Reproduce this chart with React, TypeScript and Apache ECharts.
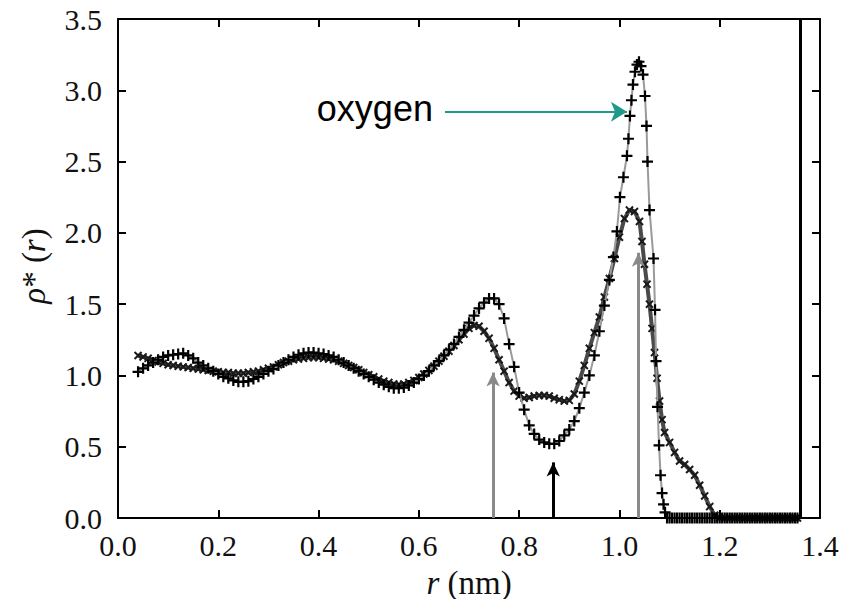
import React, { useEffect, useRef } from "react";
import * as echarts from "echarts";

// r (nm), rho*(r) — curve with "+" markers (oxygen peak)
const oxygenCurve: [number, number][] = [
  [0.04, 1.025], [0.05, 1.05], [0.06, 1.07], [0.07, 1.09], [0.08, 1.11], [0.09, 1.13], [0.10, 1.14],
  [0.11, 1.145], [0.12, 1.15], [0.13, 1.155], [0.14, 1.14], [0.15, 1.12], [0.16, 1.09], [0.17, 1.07],
  [0.18, 1.05], [0.19, 1.03], [0.20, 1.01], [0.21, 0.99], [0.22, 0.98], [0.23, 0.965], [0.24, 0.955],
  [0.25, 0.955], [0.26, 0.96], [0.27, 0.975], [0.28, 0.99], [0.29, 1.01], [0.30, 1.03], [0.31, 1.045],
  [0.32, 1.07], [0.33, 1.09], [0.34, 1.11], [0.35, 1.13], [0.36, 1.145], [0.37, 1.155], [0.38, 1.16],
  [0.39, 1.16], [0.40, 1.155], [0.41, 1.15], [0.42, 1.14], [0.43, 1.13], [0.44, 1.11], [0.45, 1.09],
  [0.46, 1.07], [0.47, 1.05], [0.48, 1.03], [0.49, 1.01], [0.50, 0.99], [0.51, 0.97], [0.52, 0.95],
  [0.53, 0.935], [0.54, 0.92], [0.55, 0.91], [0.56, 0.91], [0.57, 0.915], [0.58, 0.93], [0.59, 0.95],
  [0.60, 0.975], [0.61, 1.0], [0.62, 1.03], [0.63, 1.07], [0.64, 1.10], [0.65, 1.14], [0.66, 1.18],
  [0.67, 1.22], [0.68, 1.27], [0.69, 1.32], [0.70, 1.37], [0.71, 1.42], [0.72, 1.47], [0.73, 1.51],
  [0.74, 1.54], [0.75, 1.54], [0.76, 1.50], [0.77, 1.40], [0.78, 1.22], [0.79, 1.06], [0.80, 0.88],
  [0.81, 0.76], [0.82, 0.65], [0.83, 0.59], [0.84, 0.55], [0.85, 0.53], [0.86, 0.52], [0.87, 0.52],
  [0.88, 0.54], [0.89, 0.58], [0.90, 0.62], [0.91, 0.68], [0.92, 0.77], [0.93, 0.88], [0.94, 1.00],
  [0.95, 1.14], [0.96, 1.31], [0.97, 1.49], [0.98, 1.67], [0.988, 1.83], [0.995, 2.01], [1.001, 2.25],
  [1.008, 2.39], [1.015, 2.54], [1.018, 2.66], [1.021, 2.82], [1.024, 2.93], [1.027, 3.04], [1.031, 3.13],
  [1.035, 3.18], [1.039, 3.20], [1.043, 3.17], [1.047, 3.11], [1.051, 2.96], [1.054, 2.75], [1.056, 2.50],
  [1.060, 2.16], [1.068, 1.82], [1.071, 1.46], [1.073, 1.10], [1.076, 0.78], [1.079, 0.51], [1.082, 0.30],
  [1.085, 0.175], [1.088, 0.096], [1.091, 0.04], [1.095, 0], [1.10, 0], [1.105, 0], [1.11, 0], [1.115, 0],
  [1.12, 0], [1.125, 0], [1.13, 0], [1.135, 0], [1.14, 0], [1.145, 0], [1.15, 0], [1.155, 0], [1.16, 0],
  [1.165, 0], [1.17, 0], [1.175, 0], [1.18, 0], [1.185, 0], [1.19, 0], [1.195, 0], [1.20, 0], [1.205, 0],
  [1.21, 0], [1.215, 0], [1.22, 0], [1.225, 0], [1.23, 0], [1.235, 0], [1.24, 0], [1.245, 0], [1.25, 0],
  [1.255, 0], [1.26, 0], [1.265, 0], [1.27, 0], [1.275, 0], [1.28, 0], [1.285, 0], [1.29, 0], [1.295, 0],
  [1.30, 0], [1.305, 0], [1.31, 0], [1.315, 0], [1.32, 0], [1.325, 0], [1.33, 0], [1.335, 0], [1.34, 0],
  [1.345, 0], [1.35, 0], [1.355, 0],
];

// r (nm), rho*(r) — curve with "x" markers
const secondCurve: [number, number][] = [
  [0.04, 1.14], [0.05, 1.13], [0.06, 1.12], [0.07, 1.105], [0.08, 1.095], [0.09, 1.085], [0.10, 1.075],
  [0.11, 1.07], [0.12, 1.065], [0.13, 1.06], [0.14, 1.055], [0.15, 1.05], [0.16, 1.045], [0.17, 1.04],
  [0.18, 1.035], [0.19, 1.03], [0.20, 1.025], [0.21, 1.02], [0.22, 1.02], [0.23, 1.015], [0.24, 1.015],
  [0.25, 1.015], [0.26, 1.02], [0.27, 1.025], [0.28, 1.03], [0.29, 1.04], [0.30, 1.05], [0.31, 1.06],
  [0.32, 1.075], [0.33, 1.09], [0.34, 1.10], [0.35, 1.11], [0.36, 1.115], [0.37, 1.12], [0.38, 1.125],
  [0.39, 1.125], [0.40, 1.125], [0.41, 1.12], [0.42, 1.115], [0.43, 1.11], [0.44, 1.10], [0.45, 1.085],
  [0.46, 1.07], [0.47, 1.055], [0.48, 1.04], [0.49, 1.02], [0.50, 1.005], [0.51, 0.99], [0.52, 0.975],
  [0.53, 0.96], [0.54, 0.95], [0.55, 0.94], [0.56, 0.935], [0.57, 0.94], [0.58, 0.95], [0.59, 0.965],
  [0.60, 0.985], [0.61, 1.01], [0.62, 1.035], [0.63, 1.065], [0.64, 1.10], [0.65, 1.135], [0.66, 1.17],
  [0.67, 1.21], [0.68, 1.25], [0.69, 1.29], [0.70, 1.33], [0.71, 1.35], [0.72, 1.345], [0.73, 1.31],
  [0.74, 1.26], [0.75, 1.19], [0.76, 1.11], [0.77, 1.03], [0.78, 0.95], [0.79, 0.89], [0.80, 0.855],
  [0.81, 0.84], [0.82, 0.845], [0.83, 0.855], [0.84, 0.86], [0.85, 0.86], [0.86, 0.855], [0.87, 0.84],
  [0.88, 0.83], [0.89, 0.82], [0.90, 0.825], [0.91, 0.87], [0.92, 0.96], [0.93, 1.07], [0.94, 1.19],
  [0.95, 1.30], [0.96, 1.41], [0.97, 1.55], [0.98, 1.68], [0.99, 1.82], [1.00, 1.97], [1.01, 2.10],
  [1.02, 2.16], [1.03, 2.15], [1.04, 2.08], [1.045, 1.94], [1.05, 1.78], [1.055, 1.64], [1.06, 1.50],
  [1.065, 1.33], [1.07, 1.16], [1.075, 0.98], [1.08, 0.82], [1.085, 0.69], [1.09, 0.60], [1.10, 0.53],
  [1.11, 0.46], [1.12, 0.40], [1.13, 0.375], [1.14, 0.34], [1.15, 0.30], [1.16, 0.23], [1.17, 0.155],
  [1.18, 0.08], [1.19, 0.02], [1.20, 0], [1.21, 0], [1.22, 0], [1.23, 0], [1.24, 0], [1.25, 0], [1.26, 0],
  [1.27, 0], [1.28, 0], [1.29, 0], [1.30, 0], [1.31, 0], [1.32, 0], [1.33, 0], [1.34, 0], [1.35, 0], [1.355, 0],
];

// vertical arrows: [r position, tip height, colour]
const verticalArrows: [number, number, string][] = [
  [0.748, 1.02, "#8a8a8a"],
  [0.868, 0.39, "#000000"],
  [1.038, 1.86, "#8a8a8a"],
];
const boundaryR = 1.356;
const oxygenArrow = { from: [0.652, 2.85], to: [1.015, 2.85], label: "oxygen" };

const X_MIN = 0, X_MAX = 1.4, X_STEP = 0.2;
const Y_MIN = 0, Y_MAX = 3.5, Y_STEP = 0.5;

const SERIF = "'Liberation Serif', 'Times New Roman', serif";
const SANS = "'Liberation Sans', Arial, sans-serif";
const PLUS = "path://M4,0H6V4H10V6H6V10H4V6H0V4H4Z";

export default function App() {
  const ref = useRef<HTMLDivElement>(null);
  useEffect(() => {
    if (!ref.current) return;
    const chart = echarts.init(ref.current, undefined, { renderer: "svg" });
    const axisLine = { show: true, onZero: false, lineStyle: { color: "#000", width: 2 } };
    const tick = { show: true, inside: true, length: 8, lineStyle: { color: "#000", width: 2 } };
    const label = {
      fontFamily: SERIF,
      fontSize: 30,
      color: "#111",
      formatter: (v: number) => v.toFixed(1),
    };
    chart.setOption({
      animation: false,
      backgroundColor: "#fff",
      grid: { left: 118, right: 28, top: 19, bottom: 81, containLabel: false, outerBoundsMode: "none" },
      xAxis: [
        {
          type: "value", min: X_MIN, max: X_MAX, interval: X_STEP, position: "bottom",
          axisLine, axisTick: tick, splitLine: { show: false },
          axisLabel: { ...label, margin: 12 },
          name: "{i|r} (nm)", nameLocation: "middle", nameGap: 48,
          nameTextStyle: {
            fontFamily: SERIF, fontSize: 33, color: "#111",
            rich: {
              i: { fontFamily: SERIF, fontSize: 33, fontStyle: "italic", color: "#111" },
            },
          },
        },
        {
          type: "value", min: X_MIN, max: X_MAX, interval: X_STEP, position: "top",
          axisLine, axisTick: tick, splitLine: { show: false }, axisLabel: { show: false },
        },
      ],
      yAxis: [
        {
          type: "value", min: Y_MIN, max: Y_MAX, interval: Y_STEP, position: "left",
          axisLine, axisTick: tick, splitLine: { show: false },
          axisLabel: { ...label, margin: 16 },
        },
        {
          type: "value", min: Y_MIN, max: Y_MAX, interval: Y_STEP, position: "right",
          axisLine, axisTick: tick, splitLine: { show: false }, axisLabel: { show: false },
        },
      ],
      graphic: [
        {
          type: "text", x: 34, y: 266, rotation: Math.PI / 2,
          style: {
            text: "{i|ρ}* ({i|r})", fontFamily: SERIF, fontSize: 33, fill: "#111",
            align: "center", verticalAlign: "middle",
            rich: { i: { fontFamily: SERIF, fontSize: 33, fontStyle: "italic", fill: "#111" } },
          },
        },
      ],
      series: [
        {
          type: "line", name: "second", data: secondCurve, xAxisIndex: 0, yAxisIndex: 0,
          symbol: PLUS, symbolRotate: 45, symbolSize: 10, showAllSymbol: true,
          lineStyle: { color: "#4a4a4a", width: 4 },
          itemStyle: { color: "#1a1a1a" },
          markLine: {
            silent: true, symbol: "none", label: { show: false },
            data: [{ xAxis: boundaryR, lineStyle: { color: "#000", width: 3, type: "solid" } }],
          },
          z: 2,
        },
        {
          type: "line", name: "oxygen", data: oxygenCurve, xAxisIndex: 0, yAxisIndex: 0,
          symbol: PLUS, symbolSize: 11, showAllSymbol: true,
          lineStyle: { color: "#9a9a9a", width: 2 },
          itemStyle: { color: "#000" },
          markLine: {
            silent: true, symbol: ["none", "arrow"], symbolSize: [10, 14],
            label: { show: false },
            data: [
              ...verticalArrows.map(([r, tip, c]) => [
                { coord: [r, 0], lineStyle: { color: c, width: 3, type: "solid" } },
                { coord: [r, tip] },
              ]),
              [
                {
                  coord: oxygenArrow.from,
                  symbolSize: [15, 16],
                  lineStyle: { color: "#1f9a8a", width: 2, type: "solid" },
                  label: {
                    show: true, position: "start", formatter: oxygenArrow.label,
                    fontFamily: SANS, fontSize: 36, color: "#000", distance: 12,
                    offset: [0, -3],
                  },
                },
                { coord: oxygenArrow.to, symbolSize: [15, 16] },
              ],
            ],
          },
          z: 3,
        },
      ],
    });
    return () => chart.dispose();
  }, []);
  return (
    <div
      ref={ref}
      style={{ position: "fixed", left: 0, top: 0, width: 848, height: 599, background: "#fff" }}
    />
  );
}
